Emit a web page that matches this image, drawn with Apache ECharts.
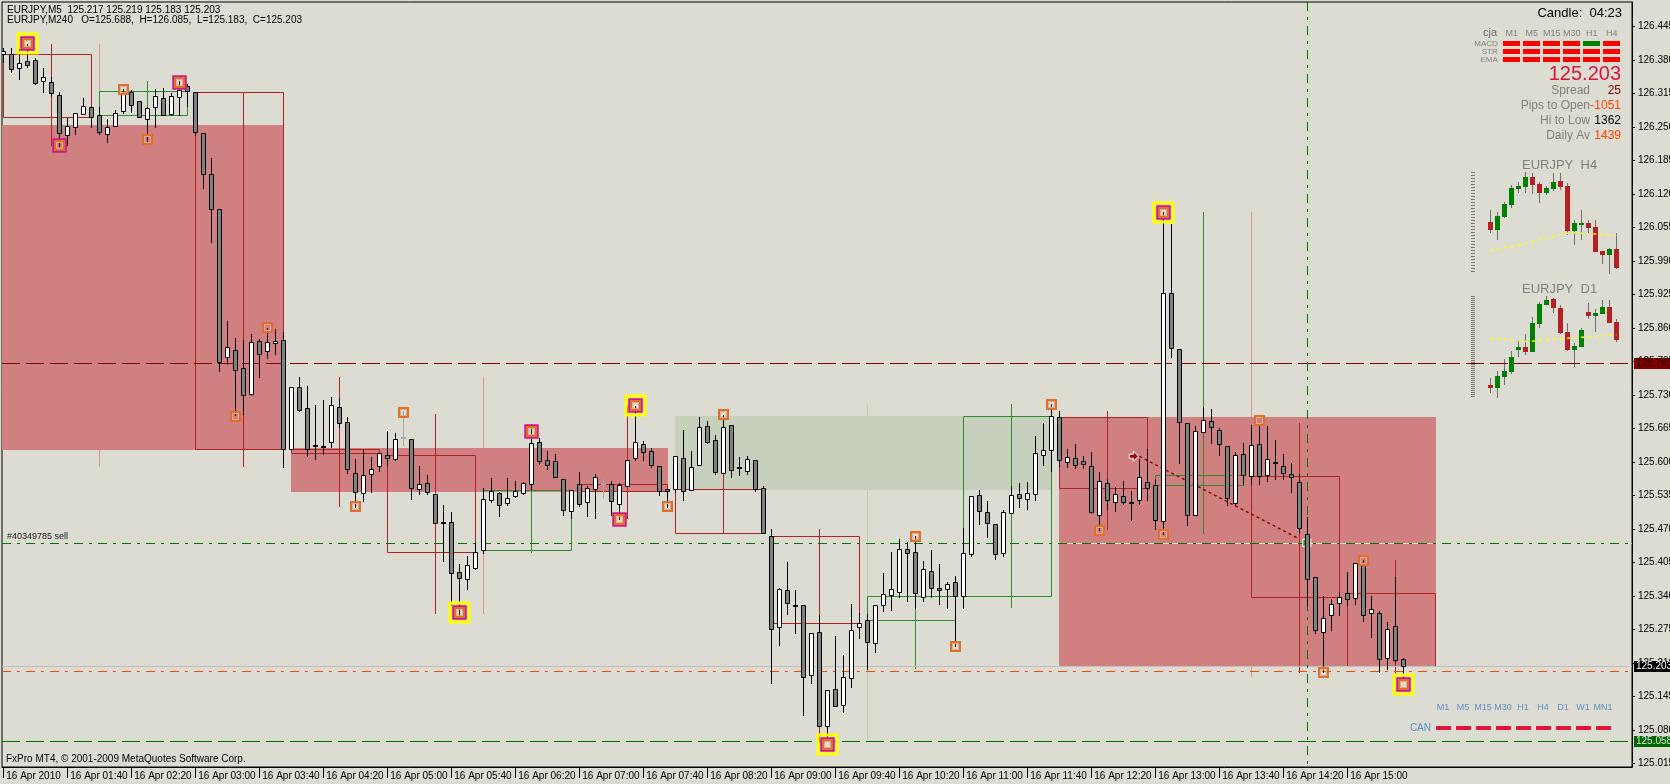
<!DOCTYPE html>
<html>
<head>
<meta charset="utf-8">
<script src="https://cdn.jsdelivr.net/npm/echarts@6.0.0/dist/echarts.min.js"></script>
<style>
html,body{margin:0;padding:0;background:#dcdcd3;overflow:hidden;}
#chart{width:1670px;height:784px;}
</style>
</head>
<body>
<div id="chart"></div>
<script>
// ================= DATA =================
const symbol = 'EURJPY';
const timeLabels = ['16 Apr 2010','16 Apr 01:40','16 Apr 02:20','16 Apr 03:00','16 Apr 03:40','16 Apr 04:20','16 Apr 05:00','16 Apr 05:40','16 Apr 06:20','16 Apr 07:00','16 Apr 07:40','16 Apr 08:20','16 Apr 09:00','16 Apr 09:40','16 Apr 10:20','16 Apr 11:00','16 Apr 11:40','16 Apr 12:20','16 Apr 13:00','16 Apr 13:40','16 Apr 14:20','16 Apr 15:00'];
const tickBars = [0,8,16,24,32,40,48,56,64,72,80,88,96,104,112,120,128,136,144,152,160,168];
const priceTicks = [125.015,125.080,125.145,125.210,125.275,125.340,125.405,125.470,125.535,125.600,125.665,125.730,125.795,125.860,125.925,125.990,126.055,126.120,126.185,126.250,126.315,126.380,126.445];

// M5 bars (bar 0 = 01:00)
const open = [126.393,126.392,126.364,126.378,126.380,126.340,126.337,126.312,126.234,126.250,
126.275,126.290,126.273,126.236,126.252,126.281,126.318,126.300,126.265,126.289,
126.306,126.275,126.308,126.329,126.318,126.238,126.160,126.092,125.803,125.817,
125.782,125.731,125.834,125.815,125.830,125.837,125.626,125.745,125.704,125.633,
125.631,125.638,125.707,125.677,125.578,125.540,125.576,125.592,125.613,125.605,
125.648,125.644,125.547,125.560,125.537,125.484,125.483,125.386,125.372,125.394,
125.430,125.526,125.539,125.520,125.533,125.539,125.557,125.638,125.603,125.601,
125.566,125.504,125.557,125.522,125.547,125.560,125.557,125.518,125.553,125.607,
125.634,125.621,125.593,125.547,125.547,125.607,125.545,125.594,125.669,125.642,
125.578,125.671,125.590,125.582,125.603,125.549,125.457,125.279,125.351,125.322,
125.322,125.186,125.269,125.087,125.159,125.128,125.180,125.279,125.293,125.248,
125.322,125.341,125.347,125.432,125.425,125.337,125.388,125.355,125.353,125.366,
125.339,125.421,125.535,125.502,125.479,125.423,125.500,125.537,125.528,125.537,
125.613,125.623,125.688,125.599,125.607,125.601,125.592,125.498,125.559,125.522,
125.533,125.522,125.527,125.562,125.556,125.485,125.929,125.819,125.676,125.498,
125.659,125.680,125.663,125.631,125.521,125.615,125.572,125.635,125.574,125.599,
125.593,125.576,125.562,125.460,125.377,125.269,125.302,125.326,125.346,125.336,
125.403,125.306,125.306,125.219,125.281,125.217];
const high = [126.403,126.403,126.401,126.412,126.384,126.364,126.347,126.318,126.267,126.278,
126.306,126.291,126.290,126.265,126.283,126.324,126.322,126.301,126.289,126.324,
126.327,126.316,126.339,126.333,126.318,126.238,126.191,126.092,125.873,125.840,
125.836,125.848,125.838,125.861,125.858,125.852,125.746,125.764,125.747,125.710,
125.720,125.727,125.724,125.687,125.605,125.625,125.609,125.617,125.661,125.656,
125.698,125.644,125.592,125.574,125.537,125.516,125.502,125.401,125.417,125.442,
125.549,125.568,125.541,125.568,125.564,125.562,125.673,125.646,125.621,125.615,
125.566,125.545,125.580,125.553,125.576,125.566,125.564,125.560,125.603,125.709,
125.640,125.628,125.593,125.547,125.611,125.663,125.621,125.687,125.679,125.652,
125.692,125.671,125.609,125.611,125.603,125.553,125.469,125.355,125.405,125.351,
125.322,125.267,125.302,125.157,125.263,125.225,125.324,125.306,125.304,125.322,
125.384,125.425,125.450,125.444,125.456,125.407,125.429,125.401,125.366,125.378,
125.471,125.533,125.545,125.524,125.479,125.506,125.553,125.559,125.561,125.650,
125.675,125.712,125.698,125.625,125.634,125.611,125.619,125.580,125.566,125.551,
125.563,125.543,125.606,125.625,125.566,126.085,126.062,125.819,125.676,125.669,
125.706,125.702,125.665,125.631,125.619,125.637,125.671,125.675,125.669,125.642,
125.615,125.598,125.576,125.493,125.377,125.340,125.334,125.348,125.387,125.403,
125.409,125.340,125.310,125.289,125.377,125.219];
const low = [126.377,126.358,126.344,126.367,126.334,126.319,126.311,126.214,126.216,126.236,
126.275,126.251,126.236,126.222,126.252,126.277,126.279,126.269,126.224,126.251,
126.273,126.274,126.273,126.292,126.234,126.131,126.028,125.776,125.790,125.691,
125.693,125.730,125.764,125.801,125.809,125.591,125.626,125.698,125.612,125.606,
125.616,125.630,125.667,125.578,125.513,125.525,125.542,125.583,125.595,125.604,
125.632,125.529,125.538,125.537,125.481,125.408,125.322,125.305,125.353,125.393,
125.423,125.522,125.495,125.516,125.532,125.537,125.547,125.597,125.586,125.570,
125.498,125.491,125.515,125.496,125.492,125.531,125.497,125.489,125.553,125.603,
125.603,125.590,125.535,125.513,125.541,125.527,125.545,125.594,125.636,125.576,
125.578,125.570,125.574,125.576,125.543,125.463,125.170,125.244,125.304,125.267,
125.108,125.170,125.087,125.058,125.126,125.114,125.164,125.258,125.198,125.232,
125.310,125.312,125.337,125.330,125.316,125.330,125.337,125.324,125.316,125.242,
125.316,125.417,125.479,125.454,125.411,125.417,125.500,125.512,125.508,125.526,
125.594,125.582,125.592,125.590,125.588,125.588,125.500,125.467,125.508,125.504,
125.518,125.487,125.519,125.527,125.470,125.460,125.803,125.598,125.477,125.498,
125.659,125.637,125.613,125.517,125.517,125.558,125.558,125.558,125.564,125.566,
125.566,125.541,125.464,125.322,125.267,125.192,125.273,125.302,125.322,125.324,
125.291,125.261,125.192,125.198,125.212,125.183];
const close = [126.397,126.362,126.374,126.371,126.335,126.347,126.316,126.238,126.253,126.277,
126.292,126.269,126.240,126.250,126.277,126.316,126.294,126.269,126.287,126.310,
126.273,126.310,126.323,126.321,126.240,126.159,126.091,125.795,125.823,125.778,
125.730,125.832,125.809,125.832,125.834,125.625,125.746,125.700,125.626,125.633,
125.631,125.710,125.675,125.586,125.542,125.574,125.586,125.617,125.607,125.644,
125.648,125.549,125.557,125.541,125.481,125.484,125.384,125.374,125.399,125.426,
125.529,125.543,125.516,125.531,125.543,125.560,125.636,125.601,125.595,125.570,
125.506,125.545,125.518,125.549,125.570,125.560,125.524,125.555,125.603,125.638,
125.619,125.595,125.543,125.543,125.611,125.543,125.590,125.667,125.638,125.580,
125.667,125.584,125.590,125.605,125.547,125.463,125.275,125.353,125.326,125.322,
125.182,125.267,125.087,125.157,125.126,125.182,125.273,125.287,125.250,125.322,
125.343,125.353,125.432,125.423,125.345,125.392,125.355,125.351,125.363,125.339,
125.423,125.533,125.504,125.481,125.421,125.502,125.535,125.530,125.539,125.617,
125.623,125.689,125.603,125.609,125.594,125.596,125.502,125.563,125.526,125.537,
125.522,125.522,125.570,125.550,125.487,125.929,125.821,125.678,125.498,125.661,
125.682,125.667,125.634,125.531,125.613,125.574,125.633,125.572,125.605,125.599,
125.578,125.570,125.472,125.373,125.273,125.298,125.324,125.338,125.334,125.403,
125.302,125.314,125.218,125.275,125.216,125.203];
const ghostBars = [50, 75];

// H1 candles drawn as outline boxes (start bar of each hour)
const h1Start = [0,12,24,36,48,60,72,84,96,108,120,132,144,156,168];
const h1Open  = [126.393,126.273,126.318,125.626,125.613,125.430,125.557,125.547,125.457,125.293,125.339,125.688,125.556,125.572,125.346];
const h1High  = [126.412,126.339,126.318,125.764,125.694,125.673,125.709,125.692,125.469,125.456,125.712,125.698,126.085,125.675,125.409];
const h1Low   = [126.214,126.222,125.591,125.513,125.305,125.423,125.489,125.463,125.058,125.198,125.316,125.467,125.460,125.190,125.183];
const h1Close = [126.269,126.321,125.625,125.617,125.426,125.545,125.543,125.463,125.287,125.339,125.689,125.550,125.574,125.338,125.203];

// H4 candles drawn as filled boxes
const h4Start = [-12,36,84,132];
const h4Open  = [126.254,125.627,125.547,125.688];
const h4High  = [126.412,125.764,125.712,126.085];
const h4Low   = [125.591,125.305,125.058,125.183];
const h4Close = [125.625,125.544,125.689,125.203];

// swing markers [bar, price]
const yellowMarks = [[3,126.414],[57,125.308],[79,125.710],[103,125.052],[145,126.086],[175,125.168]];
const magentaMarks = [[3,126.414],[7,126.215],[22,126.338],[57,125.308],[66,125.661],[77,125.489],[79,125.710],[103,125.052],[145,126.086],[175,125.168]];
const orangeMarks = [[3,126.414],[7,126.215],[22,126.338],[57,125.308],[66,125.661],[77,125.489],[79,125.710],[103,125.052],[145,126.086],[175,125.168],
  [15,126.324],[18,126.227],[29,125.690],[33,125.862],[44,125.515],[50,125.697],[83,125.515],[90,125.694],[114,125.456],[119,125.243],[131,125.713],[137,125.467],[145,125.460],[157,125.681],[165,125.193],[170,125.409]];

// levels
const pivotLevel = 125.793;
const orderPrice = 125.443;
const orderCaption = '#40349785 sell';
const bidPrice = 125.203;
const lowLevel2 = 125.194;
const dayLowLevel = 125.058;
const orderBar = 163;
const tradeLine = [142, 125.611, 163, 125.443];

// info panel
const candleTimer = '04:23';
const sigTimeframes = ['M1','M5','M15','M30','H1','H4'];
const sigIndicators = ['MACD','STR','EMA'];
const signals = [[-1,-1,-1,-1,1,-1],[-1,-1,-1,-1,-1,-1],[-1,-1,-1,-1,-1,-1]];
const infoLabels = ['Spread','Pips to Open','Hi to Low','Daily Av'];
const infoValues = ['25','-1051','1362','1439'];
const canTimeframes = ['M1','M5','M15','M30','H1','H4','D1','W1','MN1'];
const canSignals = [-1,-1,-1,-1,-1,-1,-1,-1,-1];

// mini charts
const h4MiniOpen  = [126.368,126.160,126.485,126.785,127.185,127.235,127.485,127.310,127.085,127.185,127.385,127.260,126.135,126.293,126.335,126.235,125.635,125.535,125.685];
const h4MiniHigh  = [126.660,126.610,126.868,127.285,127.360,127.610,127.593,127.360,127.260,127.585,127.585,127.335,126.410,126.660,126.410,126.410,125.635,125.710,126.085];
const h4MiniLow   = [126.077,125.910,126.460,126.710,127.085,127.085,127.068,126.843,127.035,127.143,127.160,126.043,125.785,125.910,126.085,125.610,125.310,125.060,125.185];
const h4MiniClose = [126.160,126.510,126.810,127.210,127.260,127.485,127.293,127.085,127.210,127.360,127.235,126.135,126.335,126.343,126.210,125.610,125.535,125.693,125.210];
const h4MiniEma   = [125.643,125.677,125.718,125.743,125.785,125.827,125.868,125.910,125.952,125.993,126.052,126.077,126.085,126.077,126.068,126.060,126.052,126.043,126.035];
const d1MiniOpen  = [122.506,122.347,122.982,123.279,124.608,124.767,124.469,126.155,127.265,127.622,127.087,125.659,124.588,124.767,126.849,126.611,126.730,127.146,126.254];
const d1MiniHigh  = [122.902,123.358,124.052,124.529,125.163,125.540,126.551,127.444,127.801,127.682,127.265,126.194,125.004,125.897,127.384,127.027,127.563,127.563,126.420];
const d1MiniLow   = [122.050,121.752,122.526,123.180,124.172,124.291,124.469,125.917,127.265,126.789,125.560,124.548,123.597,124.767,126.452,125.659,126.730,126.194,125.058];
const d1MiniClose = [122.347,123.041,123.339,124.172,124.767,124.469,126.194,127.325,127.563,127.087,125.600,124.588,124.826,125.778,126.631,126.789,127.146,126.194,125.203];
const d1MiniEma   = [125.282,125.262,125.223,125.183,125.143,125.104,125.104,125.143,125.203,125.242,125.262,125.282,125.322,125.341,125.361,125.401,125.421,125.461,125.500];

// ================= RENDER =================
const BG = '#dcdcd3';
const F = "'Liberation Sans', Arial, sans-serif";
const N = open.length;
const chart = echarts.init(document.getElementById('chart'), null, {width:1670, height:784});

const ohlc = open.map((o,i)=>[i, o, close[i], low[i], high[i]]);
const h1Data = h1Start.map((s,i)=>[s, h1Open[i], h1High[i], h1Low[i], h1Close[i]]);
const h4Data = h4Start.map((s,i)=>[s, h4Open[i], h4High[i], h4Low[i], h4Close[i]]);

function renderH4(params, api){
  const s=api.value(0), o=api.value(1), h=api.value(2), l=api.value(3), c=api.value(4);
  const p1=api.coord([s,o]), p2=api.coord([s+47,c]);
  const pw=api.coord([s+24,h]), pl=api.coord([s+24,l]);
  const bull=c>o;
  const x1=Math.round(p1[0]), x2=Math.round(p2[0]);
  const yT=Math.round(Math.min(p1[1],p2[1])), yB=Math.round(Math.max(p1[1],p2[1]));
  const xw=Math.round(pw[0])+0.5;
  return {type:'group', children:[
    {type:'line', shape:{x1:xw,y1:Math.round(pw[1]),x2:xw,y2:Math.round(pl[1])}, style:{stroke: bull?'#c2cab8':'#d49494', lineWidth:1}},
    {type:'rect', shape:{x:x1, y:yT, width:x2-x1+1, height:yB-yT+1}, style:{fill: bull?'#c7d0bd':'#d08080'}}
  ]};
}
function renderH1(params, api){
  const s=api.value(0), o=api.value(1), h=api.value(2), l=api.value(3), c=api.value(4);
  const p1=api.coord([s,o]), p2=api.coord([s+11,c]);
  const pw=api.coord([s+6,h]), pl=api.coord([s+6,l]);
  const col = c>o ? '#2a8c2a' : '#b22222';
  const x1=Math.round(p1[0])+0.5, x2=Math.round(p2[0])+0.5;
  const yT=Math.round(Math.min(p1[1],p2[1]))+0.5, yB=Math.round(Math.max(p1[1],p2[1]))+0.5;
  const xw=Math.round(pw[0])+0.5;
  return {type:'group', children:[
    {type:'line', shape:{x1:xw,y1:Math.round(pw[1]),x2:xw,y2:Math.round(pl[1])}, style:{stroke:col, lineWidth:1}},
    {type:'rect', shape:{x:x1, y:yT, width:x2-x1, height:Math.max(yB-yT,0)}, style:{fill:null, stroke:col, lineWidth:1}}
  ]};
}
function renderCandle(params, api){
  const i=api.value(0), o=api.value(1), c=api.value(2), l=api.value(3), h=api.value(4);
  const col = ghostBars.indexOf(i)>=0 ? '#a8a8a8' : '#000';
  const po=api.coord([i,o]), pc=api.coord([i,c]), ph=api.coord([i,h]), pl=api.coord([i,l]);
  const x=Math.round(po[0]);
  const yo=Math.round(po[1]), yc=Math.round(pc[1]);
  const ch=[{type:'line', shape:{x1:x+0.5,y1:Math.round(ph[1]),x2:x+0.5,y2:Math.round(pl[1])+1}, style:{stroke:col,lineWidth:1}}];
  if (Math.abs(yo-yc)<1) {
    ch.push({type:'line', shape:{x1:x-2,y1:yo+1,x2:x+3,y2:yo+1}, style:{stroke:col,lineWidth:2}});
  } else {
    const t=Math.min(yo,yc), b=Math.max(yo,yc);
    ch.push({type:'rect', shape:{x:x-2+0.5,y:t+0.5,width:4,height:b-t}, style:{fill: c>o?'#ffffff':'#808080', stroke:col, lineWidth:1}});
  }
  return {type:'group', children:ch};
}
function markerSeries(data, kind){
  return {type:'custom', xAxisIndex:0, yAxisIndex:0, z:6, silent:true, clip:false, data,
    encode:{x:0,y:1},
    renderItem(params, api){
      const p=api.coord([api.value(0), api.value(1)]);
      const x=Math.round(p[0])+0.5, y=Math.round(p[1])+0.5;
      if (kind==='y') return {type:'rect', shape:{x:x-9.5,y:y-9.5,width:19,height:19}, style:{fill:null, stroke:'#ffff00', lineWidth:3}};
      if (kind==='m') return {type:'rect', shape:{x:x-6,y:y-6,width:12,height:12}, style:{fill:null, stroke:'#cc1a8c', lineWidth:2.5}};
      return {type:'group', children:[
        {type:'rect', shape:{x:x-4.5,y:y-4.5,width:9,height:9}, style:{fill:null, stroke:'#e07026', lineWidth:2}},
        {type:'rect', shape:{x:x-3,y:y-3,width:6,height:6}, style:{fill:null, stroke:'#e6a690', lineWidth:1}}
      ]};
    }
  };
}
function levelSeries(price, stroke, dash, opts){
  opts = opts || {};
  return {type:'custom', xAxisIndex:0, yAxisIndex:0, z:opts.z||3, clip:false, silent:true,
    data:[[0, price]], encode:{x:0,y:1},
    renderItem(params, api){
      const cs=params.coordSys;
      const y=Math.round(api.coord([0, api.value(1)])[1])+0.5;
      const ch=[];
      if (opts.underlay) ch.push({type:'line', shape:{x1:cs.x,y1:y,x2:cs.x+cs.width,y2:y}, style:{stroke:BG, lineWidth:1}});
      ch.push({type:'line', shape:{x1:cs.x,y1:y,x2:cs.x+cs.width,y2:y}, style:{stroke:stroke, lineWidth:1, lineDash:dash||null}});
      if (opts.tagBg) ch.push({type:'text', x:cs.x+cs.width+2, y:y, z2:10, style:{text:api.value(1).toFixed(3), fill:opts.tagColor, backgroundColor:opts.tagBg, padding:[1,4,0,2], font:'10px '+F, verticalAlign:'middle', align:'left'}});
      if (opts.caption) ch.push({type:'text', x:cs.x+5, y:y-2, style:{text:opts.caption, fill:'#1a1a1a', font:'9px '+F, verticalAlign:'bottom', align:'left'}});
      return {type:'group', children:ch};
    }
  };
}

function miniCandle(params, api){
  const i=api.value(0), o=api.value(1), c=api.value(2), l=api.value(3), h=api.value(4);
  const po=api.coord([i,o]), pc=api.coord([i,c]), ph=api.coord([i,h]), pl=api.coord([i,l]);
  const x=Math.round(po[0]);
  const t=Math.round(Math.min(po[1],pc[1])), b=Math.round(Math.max(po[1],pc[1]));
  return {type:'group', children:[
    {type:'line', shape:{x1:x+0.5,y1:Math.round(ph[1]),x2:x+0.5,y2:Math.round(pl[1])}, style:{stroke:'#6e6e6e', lineWidth:1}},
    {type:'rect', shape:{x:x-2, y:t, width:5, height:Math.max(b-t,2)}, style:{fill: c>=o?'#008000':'#b22222'}}
  ]};
}
function rulerSeries(gridIdx, hi, lo, dash){
  return {type:'custom', xAxisIndex:gridIdx, yAxisIndex:gridIdx, silent:true, clip:false,
    data:[[-1.43, Math.max.apply(null,hi), Math.min.apply(null,lo)]],
    renderItem(params, api){
      const p1=api.coord([api.value(0), api.value(1)]), p2=api.coord([api.value(0), api.value(2)]);
      const x=Math.round(p1[0]);
      return {type:'line', shape:{x1:x,y1:p1[1],x2:x,y2:p2[1]}, style:{stroke:'#7a7a7a', lineWidth:4, lineDash:dash}};
    }
  };
}
function miniSeries(gridIdx, O,H,L,C,E, rulerDash){
  return [
    rulerSeries(gridIdx, H, L, rulerDash),
    {type:'custom', xAxisIndex:gridIdx, yAxisIndex:gridIdx, silent:true, renderItem:miniCandle,
      encode:{x:0,y:[1,2,3,4]}, data:O.map((o,i)=>[i+1,o,C[i],L[i],H[i]])},
    {type:'line', xAxisIndex:gridIdx, yAxisIndex:gridIdx, silent:true, showSymbol:false, z:3,
      data:E.map((v,i)=>[i+1,v]), lineStyle:{color:'#ffff00', width:1.5, type:[3,4]}}
  ];
}

const sigData = [];
signals.forEach((row,r)=>row.forEach((v,c)=>sigData.push([c,r,v])));
const canData = canSignals.map((v,c)=>[c,0,v]);
function cellRender(w,h,up,down){
  return function(params, api){
    const p=api.coord([api.value(0), api.value(1)]);
    const x=Math.round(p[0]-w/2), y=Math.round(p[1]-h/2);
    return {type:'rect', shape:{x:x,y:y,width:w,height:h}, style:{fill: api.value(2)>0?up:down}};
  };
}

const last = N-1;
const header1 = symbol+',M5  '+open[last].toFixed(3)+' '+high[last].toFixed(3)+' '+low[last].toFixed(3)+' '+close[last].toFixed(3);
const header2 = symbol+',M240   O='+h4Open[3].toFixed(3)+',  H='+h4High[3].toFixed(3)+',  L='+h4Low[3].toFixed(3)+',  C='+h4Close[3].toFixed(3);

const infoColors = ['#8b0000','#ff4500','#000000','#ff4500'];
const infoY = [91,105.5,120.5,135.5];
const graphics = [
  {type:'text', x:7, y:5, style:{text:header1, font:'10px '+F, fill:'#000'}},
  {type:'text', x:7, y:15, style:{text:header2, font:'10px '+F, fill:'#000'}},
  {type:'text', x:6, y:754, style:{text:'FxPro MT4, \u00a9 2001-2009 MetaQuotes Software Corp.', font:'10px '+F, fill:'#000'}},
  {type:'text', x:1622, y:13, style:{text:'Candle:  '+candleTimer, font:'13px '+F, fill:'#000', align:'right', verticalAlign:'middle'}},
  {type:'text', x:1483, y:33, style:{text:'cja', font:'11px '+F, fill:'#6a6a6a', verticalAlign:'middle'}},
  {type:'text', x:1621, y:74.5, style:{text:close[last].toFixed(3), font:'20px '+F, fill:'#dc143c', align:'right', verticalAlign:'middle'}},
  {type:'text', x:1522, y:165.5, style:{text:symbol+'  H4', font:'13px '+F, fill:'#808080', verticalAlign:'middle'}},
  {type:'text', x:1522, y:289.5, style:{text:symbol+'  D1', font:'13px '+F, fill:'#808080', verticalAlign:'middle'}}
];
infoLabels.forEach((t,i)=>{
  graphics.push({type:'text', x:1590, y:infoY[i], style:{text:t, font:'12px '+F, fill:'#808080', align:'right', verticalAlign:'middle'}});
  graphics.push({type:'text', x:1621, y:infoY[i], style:{text:infoValues[i], font:'12px '+F, fill:infoColors[i], align:'right', verticalAlign:'middle'}});
});

const GB = {outerBoundsMode:'none', containLabel:false};
const option = {
  animation:false,
  backgroundColor:BG,
  grid:[
    Object.assign({left:2, top:2, width:1630, height:765, show:true, borderColor:'#000', borderWidth:1, backgroundColor:'transparent'}, GB),
    Object.assign({left:1501.8, top:39.3, width:120, height:24}, GB),
    Object.assign({left:1433, top:724, width:180, height:8}, GB),
    Object.assign({left:1465.8, top:170, width:154, height:106}, GB),
    Object.assign({left:1465.8, top:290, width:154, height:110}, GB)
  ],
  xAxis:[
    {type:'value', gridIndex:0, min:-0.1625, max:203.59, position:'bottom',
      axisLine:{show:true, onZero:false, lineStyle:{color:'#000', width:1}},
      splitLine:{show:false},
      axisTick:{show:true, customValues:tickBars, length:11, lineStyle:{color:'#000'}},
      axisLabel:{customValues:tickBars, formatter:(v)=>timeLabels[tickBars.indexOf(v)], align:'left', margin:4, padding:[0,0,0,3], fontSize:10, fontFamily:F, color:'#000'}},
    {type:'category', gridIndex:1, data:sigTimeframes, position:'top', axisLine:{show:false, onZero:false}, axisTick:{show:false},
      axisLabel:{interval:0, margin:1, fontSize:9, fontFamily:F, color:'#808080'}},
    {type:'category', gridIndex:2, data:canTimeframes, position:'top', axisLine:{show:false, onZero:false}, axisTick:{show:false},
      axisLabel:{interval:0, margin:12, fontSize:9, fontFamily:F, color:'#5f8fc6'}},
    {type:'value', gridIndex:3, min:-2.5, max:19.5, show:false},
    {type:'value', gridIndex:4, min:-2.5, max:19.5, show:false}
  ],
  yAxis:[
    {type:'value', gridIndex:0, position:'right', min:125.0078, max:126.493,
      axisLine:{show:true, onZero:false, lineStyle:{color:'#000', width:1}},
      splitLine:{show:false},
      axisTick:{show:true, customValues:priceTicks, length:3, lineStyle:{color:'#000'}},
      axisLabel:{customValues:priceTicks, formatter:(v)=>v.toFixed(3), margin:6, fontSize:10, fontFamily:F, color:'#000'}},
    {type:'category', gridIndex:1, data:sigIndicators, inverse:true, axisLine:{show:false, onZero:false}, axisTick:{show:false},
      axisLabel:{interval:0, margin:4, fontSize:8, fontFamily:F, color:'#808080'}},
    {type:'category', gridIndex:2, data:['CAN'], axisLine:{show:false, onZero:false}, axisTick:{show:false},
      axisLabel:{interval:0, margin:2, fontSize:10, fontFamily:F, color:'#5f8fc6'}},
    {type:'value', gridIndex:3, min:125.01, max:127.66, show:false},
    {type:'value', gridIndex:4, min:121.614, max:128.158, show:false}
  ],
  graphic:{elements:graphics},
  series:[
    {type:'custom', name:'H4', xAxisIndex:0, yAxisIndex:0, z:1, clip:true, silent:true, renderItem:renderH4, encode:{x:0,y:[1,2,3,4]}, data:h4Data},
    {type:'custom', name:'H1', xAxisIndex:0, yAxisIndex:0, z:2, clip:true, silent:true, renderItem:renderH1, encode:{x:0,y:[1,2,3,4]}, data:h1Data},
    levelSeries(pivotLevel, '#800000', [18,6], {tagBg:'#800000', tagColor:'#200000'}),
    levelSeries(bidPrice, '#c0c0c0', null, {tagBg:'#000000', tagColor:'#ffffff'}),
    levelSeries(lowLevel2, '#ff4500', [9,6,3,6]),
    levelSeries(dayLowLevel, '#007000', [18,6], {tagBg:'#006400', tagColor:'#d8e8d8'}),
    levelSeries(orderPrice, '#007800', [9,6,3,6], {underlay:true, caption:orderCaption}),
    {type:'custom', xAxisIndex:0, yAxisIndex:0, z:3, clip:true, silent:true, data:[[orderBar, orderPrice]], encode:{x:0,y:1},
      renderItem(params, api){
        const cs=params.coordSys; const x=Math.round(api.coord([api.value(0), api.value(1)])[0])+0.5;
        return {type:'line', shape:{x1:x,y1:cs.y,x2:x,y2:cs.y+cs.height}, style:{stroke:'#007800', lineWidth:1, lineDash:[9,6,3,6]}};
      }},
    {type:'custom', xAxisIndex:0, yAxisIndex:0, z:3, clip:true, silent:true, data:[tradeLine], encode:{x:[0,2],y:[1,3]},
      renderItem(params, api){
        const a=api.coord([api.value(0), api.value(1)]), b=api.coord([api.value(2), api.value(3)]);
        const ax=a[0]-5, ay=a[1];
        return {type:'group', children:[
          {type:'line', shape:{x1:a[0],y1:a[1],x2:b[0]-8,y2:b[1]-4}, style:{stroke:'#8b0000', lineWidth:1.5, lineDash:[3,3]}},
          {type:'polygon', shape:{points:[[ax-5,ay-2],[ax-1,ay-2],[ax-1,ay-5],[ax+4,ay],[ax-1,ay+5],[ax-1,ay+2],[ax-5,ay+2]]}, style:{fill:'#9a0000', stroke:'#ffffff', lineWidth:1}},
          {type:'rect', shape:{x:b[0]-5, y:b[1]-4, width:9, height:8}, style:{fill:'#ffffff'}},
          {type:'rect', shape:{x:b[0]-4, y:b[1]-3, width:4, height:6}, style:{fill:'#20a020'}},
          {type:'rect', shape:{x:b[0], y:b[1]-3, width:3, height:6}, style:{fill:'#e01010'}}
        ]};
      }},
    {type:'custom', name:'M5', xAxisIndex:0, yAxisIndex:0, z:4, clip:true, silent:true, renderItem:renderCandle, encode:{x:0,y:[1,2,3,4]}, data:ohlc},
    markerSeries(yellowMarks,'y'),
    markerSeries(magentaMarks,'m'),
    markerSeries(orangeMarks,'o'),
    {type:'custom', xAxisIndex:1, yAxisIndex:1, silent:true, renderItem:cellRender(17,5,'#008000','#ff0000'), encode:{x:0,y:1}, data:sigData},
    {type:'custom', xAxisIndex:2, yAxisIndex:2, silent:true, renderItem:cellRender(15,4,'#008000','#e0143c'), encode:{x:0,y:1}, data:canData}
  ].concat(miniSeries(3, h4MiniOpen,h4MiniHigh,h4MiniLow,h4MiniClose,h4MiniEma,[1,2]))
   .concat(miniSeries(4, d1MiniOpen,d1MiniHigh,d1MiniLow,d1MiniClose,d1MiniEma,[1,1]))
};
chart.setOption(option);
</script>
</body>
</html>
